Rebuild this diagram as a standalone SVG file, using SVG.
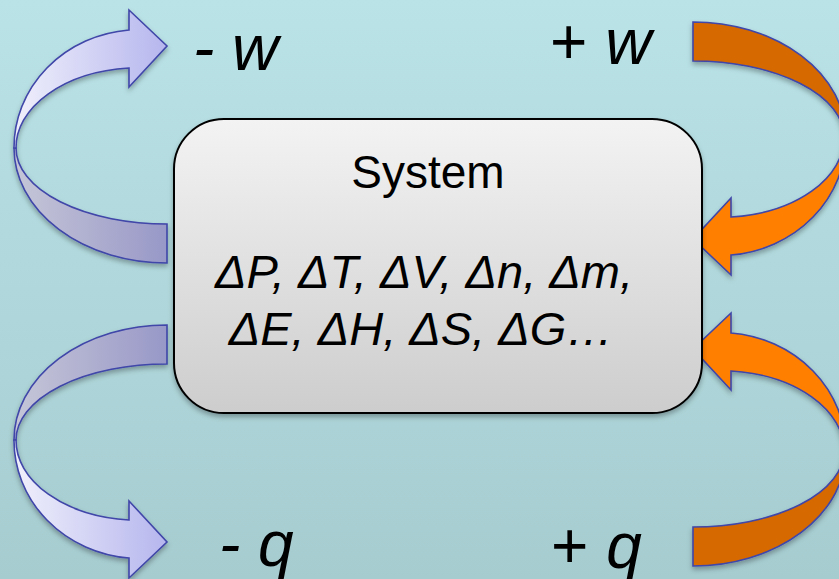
<svg xmlns="http://www.w3.org/2000/svg" width="839" height="579" viewBox="0 0 839 579">
  <defs>
    <linearGradient id="bg" x1="0" y1="0" x2="0" y2="1">
      <stop offset="0" stop-color="#bae3e7"/>
      <stop offset="1" stop-color="#a6ccd0"/>
    </linearGradient>
    <linearGradient id="boxg" x1="0" y1="0" x2="0" y2="1">
      <stop offset="0" stop-color="#f3f3f3"/>
      <stop offset="1" stop-color="#cdcdcd"/>
    </linearGradient>
    <linearGradient id="frontB" gradientUnits="userSpaceOnUse" x1="14" y1="0" x2="167" y2="0">
      <stop offset="0" stop-color="#f0f0fc"/>
      <stop offset="1" stop-color="#b6b6ee"/>
    </linearGradient>
    <linearGradient id="backB" gradientUnits="userSpaceOnUse" x1="14" y1="0" x2="167" y2="0">
      <stop offset="0" stop-color="#c6c6d8"/>
      <stop offset="1" stop-color="#9898c8"/>
    </linearGradient>
    <filter id="sh" x="-20%" y="-20%" width="140%" height="140%">
      <feDropShadow dx="0" dy="3" stdDeviation="2.5" flood-color="#000" flood-opacity="0.3"/>
    </filter>
  </defs>
  <style>
    .back, .front { stroke: #3f46a8; stroke-width: 1.6; stroke-linejoin: miter; }
    .blue .back { fill: url(#backB); }
    .blue .front { fill: url(#frontB); }
    .orange .back { fill: #d66900; }
    .orange .front { fill: #ff7f00; }
    .lbl { font-family: "Liberation Sans", Arial, sans-serif; font-size: 64px; fill: #000; }
    .it { font-style: italic; }
    .sys { font-family: "Liberation Sans", Arial, sans-serif; font-size: 46px; fill: #000; text-anchor: middle; }
    .vars { font-size: 47px; }
  </style>
  <rect x="0" y="0" width="839" height="579" fill="url(#bg)"/>

  <g id="connectors">
    <g id="arrow-minus-w" class="blue" filter="url(#sh)">
      <path class="back" d="M14,148 A153,115 0 0 0 167,263 L167,224 A151,76 0 0 1 16,148 Z"/>
      <path class="front" d="M14,148 A126,118 0 0 1 129,30 L129,10 L167,46 L129,87 L129,68 A124,80 0 0 0 16,148 Z"/>
    </g>
    <g id="arrow-minus-q" class="blue" filter="url(#sh)">
      <g transform="matrix(1,0,0,-1,0,588)">
        <path class="back" d="M14,148 A153,115 0 0 0 167,263 L167,224 A151,76 0 0 1 16,148 Z"/>
        <path class="front" d="M14,148 A126,118 0 0 1 129,30 L129,10 L167,46 L129,87 L129,68 A124,80 0 0 0 16,148 Z"/>
      </g>
    </g>
    <g id="arrow-plus-w" class="orange" filter="url(#sh)">
      <g transform="matrix(-1,0,0,-1,860,285)">
        <path class="back" d="M14,148 A153,115 0 0 0 167,263 L167,224 A151,76 0 0 1 16,148 Z"/>
        <path class="front" d="M14,148 A126,118 0 0 1 129,30 L129,10 L167,46 L129,87 L129,68 A124,80 0 0 0 16,148 Z"/>
      </g>
    </g>
    <g id="arrow-plus-q" class="orange" filter="url(#sh)">
      <g transform="matrix(-1,0,0,1,860,303)">
        <path class="back" d="M14,148 A153,115 0 0 0 167,263 L167,224 A151,76 0 0 1 16,148 Z"/>
        <path class="front" d="M14,148 A126,118 0 0 1 129,30 L129,10 L167,46 L129,87 L129,68 A124,80 0 0 0 16,148 Z"/>
      </g>
    </g>
  </g>

  <g id="system">
    <rect x="174" y="119" width="528" height="294" rx="50" ry="50" fill="url(#boxg)" stroke="#000" stroke-width="2" filter="url(#sh)"/>
    <text class="sys" x="428" y="188">System</text>
    <text class="sys it vars" x="424" y="288">ΔP, ΔT, ΔV, Δn, Δm,</text>
    <text class="sys it vars" x="421" y="345">ΔE, ΔH, ΔS, ΔG…</text>
  </g>

  <g id="label-minus-w"><text class="lbl it" x="193" y="70">- w</text></g>
  <g id="label-plus-w"><text class="lbl" x="550" y="64">+ <tspan class="it">w</tspan></text></g>
  <g id="label-minus-q"><text class="lbl it" x="219" y="566">- q</text></g>
  <g id="label-plus-q"><text class="lbl" x="551" y="568">+ <tspan class="it">q</tspan></text></g>
</svg>
